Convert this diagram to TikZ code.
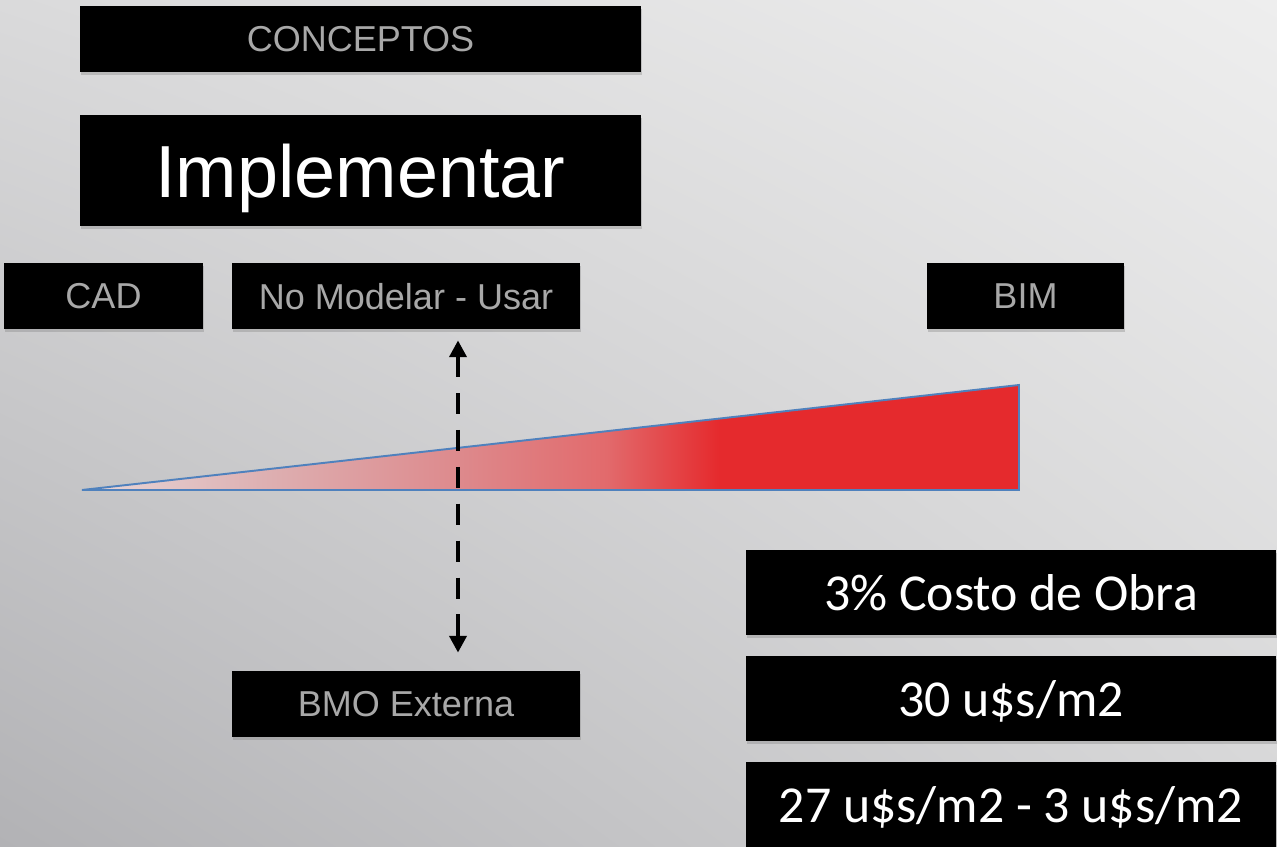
\documentclass[tikz,border=0pt]{standalone}
\usepackage{fontspec}
\setmainfont{Liberation Sans}
\newfontfamily\calibri{Carlito}
\usetikzlibrary{arrows.meta,shadows,shadings}
\definecolor{textogris}{RGB}{168,168,168}
\definecolor{rojo}{RGB}{229,42,45}
\definecolor{bordeazul}{RGB}{79,129,189}
\definecolor{fondoA}{RGB}{218,218,219}
\definecolor{fondoB}{RGB}{238,238,238}
\definecolor{fondoC}{RGB}{178,178,181}
\definecolor{fondoD}{RGB}{214,214,215}
\definecolor{cunaA}{RGB}{232,216,217}
\definecolor{cunaB}{RGB}{221,176,178}
\definecolor{cunaC}{RGB}{221,138,141}
\definecolor{cunaD}{RGB}{226,106,108}
\pgfdeclarehorizontalshading{cuna}{100bp}{color(0bp)=(cunaA); color(25bp)=(cunaA); color(34.7bp)=(cunaB);
    color(45bp)=(cunaC); color(53bp)=(cunaD); color(59bp)=(rojo); color(100bp)=(rojo)}
\begin{document}
\begin{tikzpicture}[x=0.02cm, y=-0.02cm,
                        caja/.style={fill=black, inner sep=0pt, minimum height=1.32cm, text depth=0pt,
                            drop shadow={shadow xshift=0.6pt, shadow yshift=-1.8pt, opacity=.35}},
                        gris/.style={caja, text=textogris, font=\fontsize{20.5}{24}\selectfont},
                        cifra/.style={caja, text=white, minimum width=10.6cm, minimum height=1.7cm, font=\calibri\fontsize{29.5}{34}\selectfont},
                        flecha/.style={<->, >={Triangle[length=9.6pt,width=9.6pt]}, line width=2.8pt, dash pattern=on 12pt off 9pt}]
                        \useasboundingbox (0,0) rectangle (1277,847);
                        \shade[upper left=fondoA, upper right=fondoB, lower left=fondoC, lower right=fondoD] (0,0) rectangle (1277,847);
                        \node[gris, minimum width=11.22cm] (conceptos) at (360.5,39) {CONCEPTOS};
                        \node[caja, minimum width=11.22cm, minimum height=2.22cm, text=white, font=\fontsize{42}{48}\selectfont] (implementar) at (360.5,170.5) {Implementar};
                        \node[gris, minimum width=3.98cm] (cad) at (103.5,296) {CAD};
                        \node[gris, minimum width=6.96cm] (nomodelar) at (406,296) {No Modelar - Usar};
                        \node[gris, minimum width=3.94cm] (bim) at (1025.5,296) {BIM};
                        \node[gris, minimum width=6.96cm] (bmo) at (406,704) {BMO Externa};
                        \shadedraw[shading=cuna, draw=bordeazul, line width=1.1pt] (82,490) -- (1019,385) -- (1019,490) -- cycle;
                        \coordinate (eje) at (458,0);
                        \draw[flecha, shorten <=0.22cm, shorten >=0.36cm] (nomodelar.south -| eje) -- (bmo.north -| eje);
                        \node[cifra] (costo) at (1011,592.5) {3\% Costo de Obra};
                        \node[cifra] (precio) at (1011,698.5) {30 u\$s/m2};
                        \node[cifra] (rango) at (1011,804.5) {27 u\$s/m2 - 3 u\$s/m2};
                    \end{tikzpicture}
\end{document}
